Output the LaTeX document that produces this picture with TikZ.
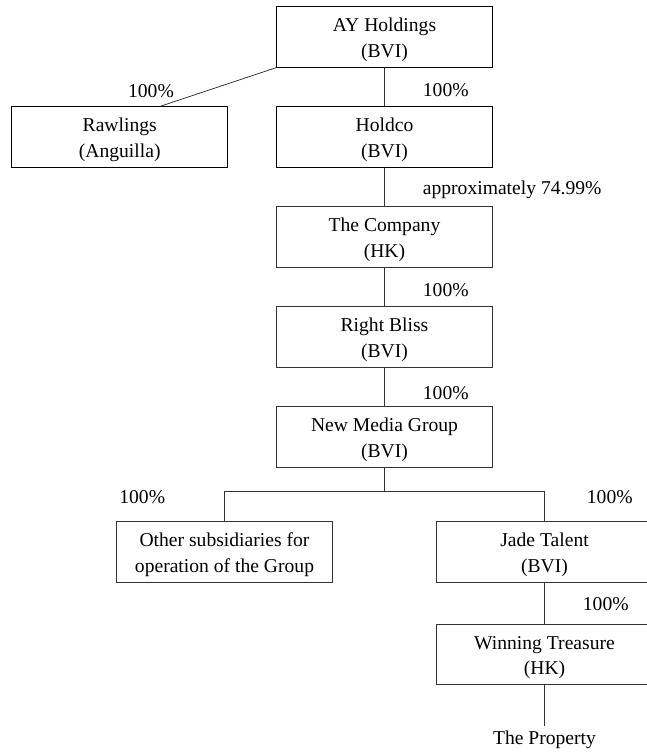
\documentclass[tikz,border=0pt]{standalone}
\usepackage{fontspec}
\setmainfont{Liberation Serif}
\usetikzlibrary{trees}

\begin{document}
\begin{tikzpicture}[%
			every node/.style={align=center, font=\fontsize{19.6}{25.6}\selectfont},
			firm/.style={draw, line width=0.8pt, minimum width=216pt, minimum height=60.5pt, inner sep=0pt,
				text height=44pt, text depth=3.4pt},
			pct/.style={inner sep=0pt, text=black},
			pctright/.style={pct, anchor=west, xshift=38pt, yshift=-3pt},
			straight edge/.style={edge from parent path={(\tikzparentnode\tikzparentanchor) -- (\tikzchildnode\tikzchildanchor)}},
			edge from parent/.style={draw, line width=0.8pt, black!80},
			level distance=100pt,
			level 1/.style={sibling distance=264.8pt},
			level 5/.style={level distance=115pt, sibling distance=320pt,
				edge from parent path={(\tikzparentnode.south) -- +(0pt,-24.2pt) -| (\tikzchildnode.north)}},
			level 6/.style={level distance=102.5pt, straight edge},
			level 7/.style={level distance=85.7pt, straight edge}
			]
			\useasboundingbox (0pt,0pt) rectangle (647pt,-755pt);
			\node[firm] (1) at (384.5pt,-37pt) {AY Holdings\\ (BVI)}
				child[edge from parent path={(\tikzparentnode.south west) -- ([xshift=40.3pt]\tikzchildnode.north)}]
					{ node[firm] (2) {Rawlings\\ (Anguilla)}
					edge from parent node[pct, pos=1, xshift=-9pt, yshift=15pt] {100\%}}
				child { node[firm] (3) {Holdco\\ (BVI)}
					child { node[firm] (4) {The Company\\ (HK)}
						child { node[firm] (5) {Right Bliss\\ (BVI)}
							child { node[firm] (6) {New Media Group\\ (BVI)}
								child { node[firm] (6sub1) {Other subsidiaries for\\ operation of the Group}
									edge from parent node[pct, pos=0.5, anchor=east, xshift=-59pt, yshift=-5pt] {100\%}}
								child { node[firm] (6sub2) {Jade Talent\\ (BVI)}
									child { node[firm] (7) {Winning Treasure\\ (HK)}
										child { node[inner sep=5.5pt, text=black] (8) {The Property}}
										edge from parent node[pctright, yshift=2pt] {100\%}}
									edge from parent node[pct, pos=0.5, anchor=west, xshift=42pt, yshift=-5pt] {100\%}}
								edge from parent node[pctright, yshift=-3pt] {100\%}}
							edge from parent node[pctright] {100\%}}
						edge from parent node[pctright] {approximately 74.99\%}}
					edge from parent node[pctright] {100\%}}
				child[missing];
		\end{tikzpicture}
\end{document}
